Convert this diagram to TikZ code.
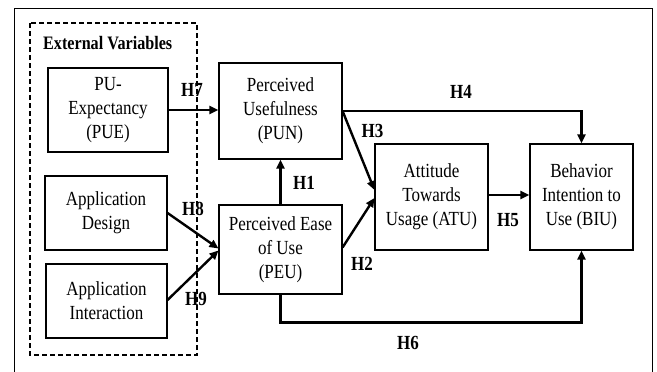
\documentclass[tikz,border=0pt]{standalone}
\usepackage{fontspec}
\setmainfont[FakeStretch=0.85]{Liberation Serif}
\usetikzlibrary{arrows.meta,calc}
\begin{document}
\begin{tikzpicture}[x=1pt,y=-1pt,
  box/.style={draw,line width=1.1pt,align=center,inner sep=0pt,font=\fontsize{20}{24}\selectfont},
  conn/.style={line width=2.4pt,-{Triangle[length=9pt,width=8pt]}},
  hlab/.style={font=\fontsize{20}{24}\selectfont\bfseries,inner sep=0pt}]
\useasboundingbox (0,0) rectangle (657,372);
% outer frame (open at bottom)
\draw[line width=0.9pt] (14,372) -- (14,8) -- (652,8) -- (652,372);
% external variables dashed box
\draw[line width=1.1pt,dash pattern=on 5pt off 3pt] (30,23) rectangle (197,355);
\node[font=\fontsize{19}{22}\selectfont\bfseries,anchor=west,inner sep=0pt] (ext) at (43,43) {External Variables};
% boxes
\node[box,minimum width=120pt,minimum height=84pt] (PUE) at (108,110) {PU-\\Expectancy\\(PUE)};
\node[box,minimum width=122pt,minimum height=74pt] (AD) at (106,213) {Application\\Design};
\node[box,minimum width=121pt,minimum height=74pt] (AI) at (106.5,301) {Application\\Interaction};
\node[box,minimum width=123pt,minimum height=96pt] (PUN) at (280.5,111) {Perceived\\Usefulness\\(PUN)};
\node[box,minimum width=123pt,minimum height=89pt] (PEU) at (280.5,249.5) {Perceived Ease\\of Use\\(PEU)};
\node[box,minimum width=113pt,minimum height=106pt] (ATU) at (431.5,197) {Attitude\\Towards\\Usage (ATU)};
\node[box,minimum width=103pt,minimum height=106pt] (BIU) at (581.5,197) {Behavior\\Intention to\\Use (BIU)};
% connectors
\draw[conn] (PUE.east) -- (PUE.east -| PUN.west);
\draw[conn] (PEU.north) -- (PUN.south);
\draw[conn] (PUN.east) -| (BIU.north);
\draw[conn] (PUN.east) -- ($(ATU.west)+(0,-7)$);
\draw[conn] ($(PEU.east)+(0,-2)$) -- ($(ATU.west)+(0,1)$);
\draw[conn] ($(ATU.east)+(0,-2)$) -- ($(BIU.west)+(0,-2)$);
\draw[conn] (PEU.south) -- ++(0,28) -| (BIU.south);
\draw[conn] (AD.east) -- ($(PEU.west)+(0,-1)$);
\draw[conn] ($(AI.east)+(0,-1)$) -- ($(PEU.west)+(0,1)$);
% labels
\node[hlab] (h7) at (192,90) {H7};
\node[hlab] (h1) at (304,183) {H1};
\node[hlab] (h4) at (461,92) {H4};
\node[hlab] (h3) at (372.5,131) {H3};
\node[hlab] (h2) at (362,264) {H2};
\node[hlab] (h5) at (508,220) {H5};
\node[hlab] (h6) at (408,343) {H6};
\node[hlab] (h8) at (193,209) {H8};
\node[hlab] (h9) at (196,299) {H9};
\end{tikzpicture}
\end{document}
